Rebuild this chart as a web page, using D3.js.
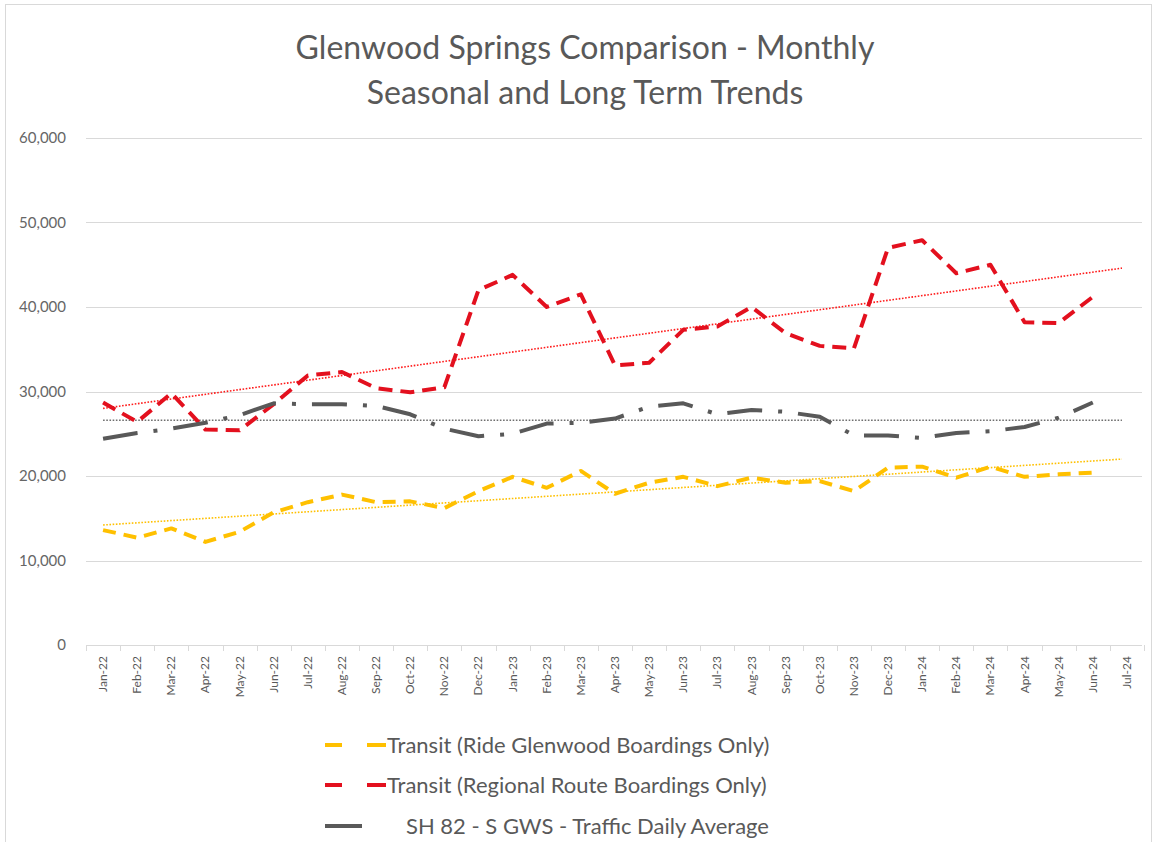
<!DOCTYPE html>
<html>
<head>
<meta charset="utf-8">
<script src="https://cdn.jsdelivr.net/npm/d3@7"></script>
<style>
	html, body { margin: 0; padding: 0; background: #fff; }
	svg { display: block; font-family: Lato, 'Open Sans', sans-serif; }
</style>
</head>
<body>
<svg id="chart" width="1156" height="842"></svg>
<script>
const months = ['Jan-22', 'Feb-22', 'Mar-22', 'Apr-22', 'May-22', 'Jun-22', 'Jul-22', 'Aug-22', 'Sep-22', 'Oct-22', 'Nov-22', 'Dec-22',
	'Jan-23', 'Feb-23', 'Mar-23', 'Apr-23', 'May-23', 'Jun-23', 'Jul-23', 'Aug-23', 'Sep-23', 'Oct-23', 'Nov-23', 'Dec-23',
	'Jan-24', 'Feb-24', 'Mar-24', 'Apr-24', 'May-24', 'Jun-24', 'Jul-24']

// Jan-22 .. Jun-24 (no value for Jul-24)
const rideGlenwood = [13600, 12700, 13800, 12200, 13400, 15700, 16900, 17800, 16900, 17000, 16200, 18200,
	19900, 18600, 20600, 17900, 19200, 19900, 18800, 19800, 19200, 19400, 18200, 21000,
	21100, 19800, 21100, 19900, 20200, 20400]

const regionalRoute = [28700, 26400, 29800, 25500, 25400, 28500, 31900, 32300, 30400, 29900, 30500, 42000,
	43800, 40000, 41500, 33100, 33400, 37300, 37700, 40000, 36900, 35400, 35100, 47000,
	47900, 44000, 45000, 38200, 38100, 41200]

const sh82Traffic = [24400, 25100, 25600, 26300, 27200, 28600, 28500, 28500, 28300, 27300, 25600, 24700,
	25000, 26200, 26300, 26800, 28200, 28600, 27300, 27800, 27600, 27000, 24800, 24800,
	24500, 25100, 25300, 25800, 26900, 28700]

// trend lines, start (Jan-22) and end (Jul-24)
const rideTrend = [14200, 22000]
const regionalTrend = [28000, 44600]
const trafficTrend = [26600, 26600]

const yTicks = [0, 10000, 20000, 30000, 40000, 50000, 60000]

const titleLines = ['Glenwood Springs Comparison - Monthly', 'Seasonal and Long Term Trends']

const seriesNames = ['Transit (Ride Glenwood Boardings Only)', 'Transit (Regional Route Boardings Only)', 'SH 82 - S GWS - Traffic Daily Average']

const $svg = d3.select('#chart')

const scaleX = d3.scaleBand().domain(months).range([86, 1144])
const scaleY = d3.scaleLinear().domain([0, 60000]).range([645, 138])

const cx = m => scaleX(m) + scaleX.bandwidth() / 2

const styles = [
	{ color: '#ffc000', width: 4, dash: '13 8', values: rideGlenwood, trend: rideTrend, trendColor: '#ffc000' },
	{ color: '#e3101e', width: 4, dash: '14 8', values: regionalRoute, trend: regionalTrend, trendColor: '#ff1a1a' },
	{ color: '#595959', width: 4, dash: '35 16 4 16', values: sh82Traffic, trend: trafficTrend, trendColor: '#6f6f6f' }
]

function drawFrame() {
	$svg.append('rect')
		.attr('x', 5.5)
		.attr('y', 4.5)
		.attr('width', 1146)
		.attr('height', 860)
		.attr('fill', 'none')
		.attr('stroke', '#d9d9d9')

	$svg.append('g')
		.selectAll('text')
		.data(titleLines)
		.join('text')
		.attr('x', 585)
		.attr('y', (d, i) => 59 + i * 45)
		.attr('text-anchor', 'middle')
		.attr('fill', '#595959')
		.attr('font-size', 32)
		.text(d => d)
}

function drawAxes() {
	const $grid = $svg.append('g')

	$grid.selectAll('line')
		.data(yTicks)
		.join('line')
		.attr('x1', 86)
		.attr('x2', 1142)
		.attr('y1', d => Math.round(scaleY(d)) + 0.5)
		.attr('y2', d => Math.round(scaleY(d)) + 0.5)
		.attr('stroke', '#d9d9d9')
		.attr('stroke-width', 1)

	$svg.append('g')
		.selectAll('text')
		.data(yTicks)
		.join('text')
		.attr('x', 66)
		.attr('y', d => scaleY(d) + 5)
		.attr('text-anchor', 'end')
		.attr('fill', '#666')
		.attr('font-size', 15)
		.text(d => d3.format(',')(d))

	// category boundary ticks
	const edges = months.map(m => scaleX(m)).concat([scaleX.range()[1]])
	$svg.append('g')
		.selectAll('line')
		.data(edges)
		.join('line')
		.attr('x1', d => Math.round(d) + 0.5)
		.attr('x2', d => Math.round(d) + 0.5)
		.attr('y1', 645)
		.attr('y2', 651)
		.attr('stroke', '#d9d9d9')

	$svg.append('g')
		.selectAll('text')
		.data(months)
		.join('text')
		.attr('transform', d => `translate(${cx(d) + 4},656) rotate(-90)`)
		.attr('text-anchor', 'end')
		.attr('fill', '#595959')
		.attr('font-size', 12)
		.text(d => d)
}

function drawSeries() {
	const line = d3.line()
		.x((d, i) => cx(months[i]))
		.y(d => scaleY(d))

	const $trends = $svg.append('g')
	styles.forEach(s => {
		$trends.append('line')
			.attr('x1', cx(months[0]))
			.attr('x2', cx(months[months.length - 1]) - 5)
			.attr('y1', scaleY(s.trend[0]))
			.attr('y2', scaleY(s.trend[1]))
			.attr('stroke', s.trendColor)
			.attr('stroke-width', 1.6)
			.attr('stroke-dasharray', '1.6 1.6')
	})

	$svg.append('g')
		.selectAll('path')
		.data(styles)
		.join('path')
		.attr('d', d => line(d.values))
		.attr('fill', 'none')
		.attr('stroke', d => d.color)
		.attr('stroke-width', d => d.width)
		.attr('stroke-dasharray', d => d.dash)
		.attr('stroke-linejoin', 'round')
}

function drawLegend() {
	const rows = [745, 785, 826]
	const $legend = $svg.append('g')

	styles.forEach((s, i) => {
		const y = rows[i]
		if (i < 2) {
			$legend.append('line')
				.attr('x1', 325).attr('x2', 386)
				.attr('y1', y).attr('y2', y)
				.attr('stroke', s.color)
				.attr('stroke-width', 4)
				.attr('stroke-dasharray', '17 25 19')
		} else {
			$legend.append('line')
				.attr('x1', 325).attr('x2', 362)
				.attr('y1', y).attr('y2', y)
				.attr('stroke', s.color)
				.attr('stroke-width', 4)
		}
		$legend.append('text')
			.attr('x', i < 2 ? 387 : 406)
			.attr('y', y + 8)
			.attr('fill', '#595959')
			.attr('font-size', 22)
			.text(seriesNames[i])
	})
}

drawFrame()
drawAxes()
drawSeries()
drawLegend()
</script>
</body>
</html>
